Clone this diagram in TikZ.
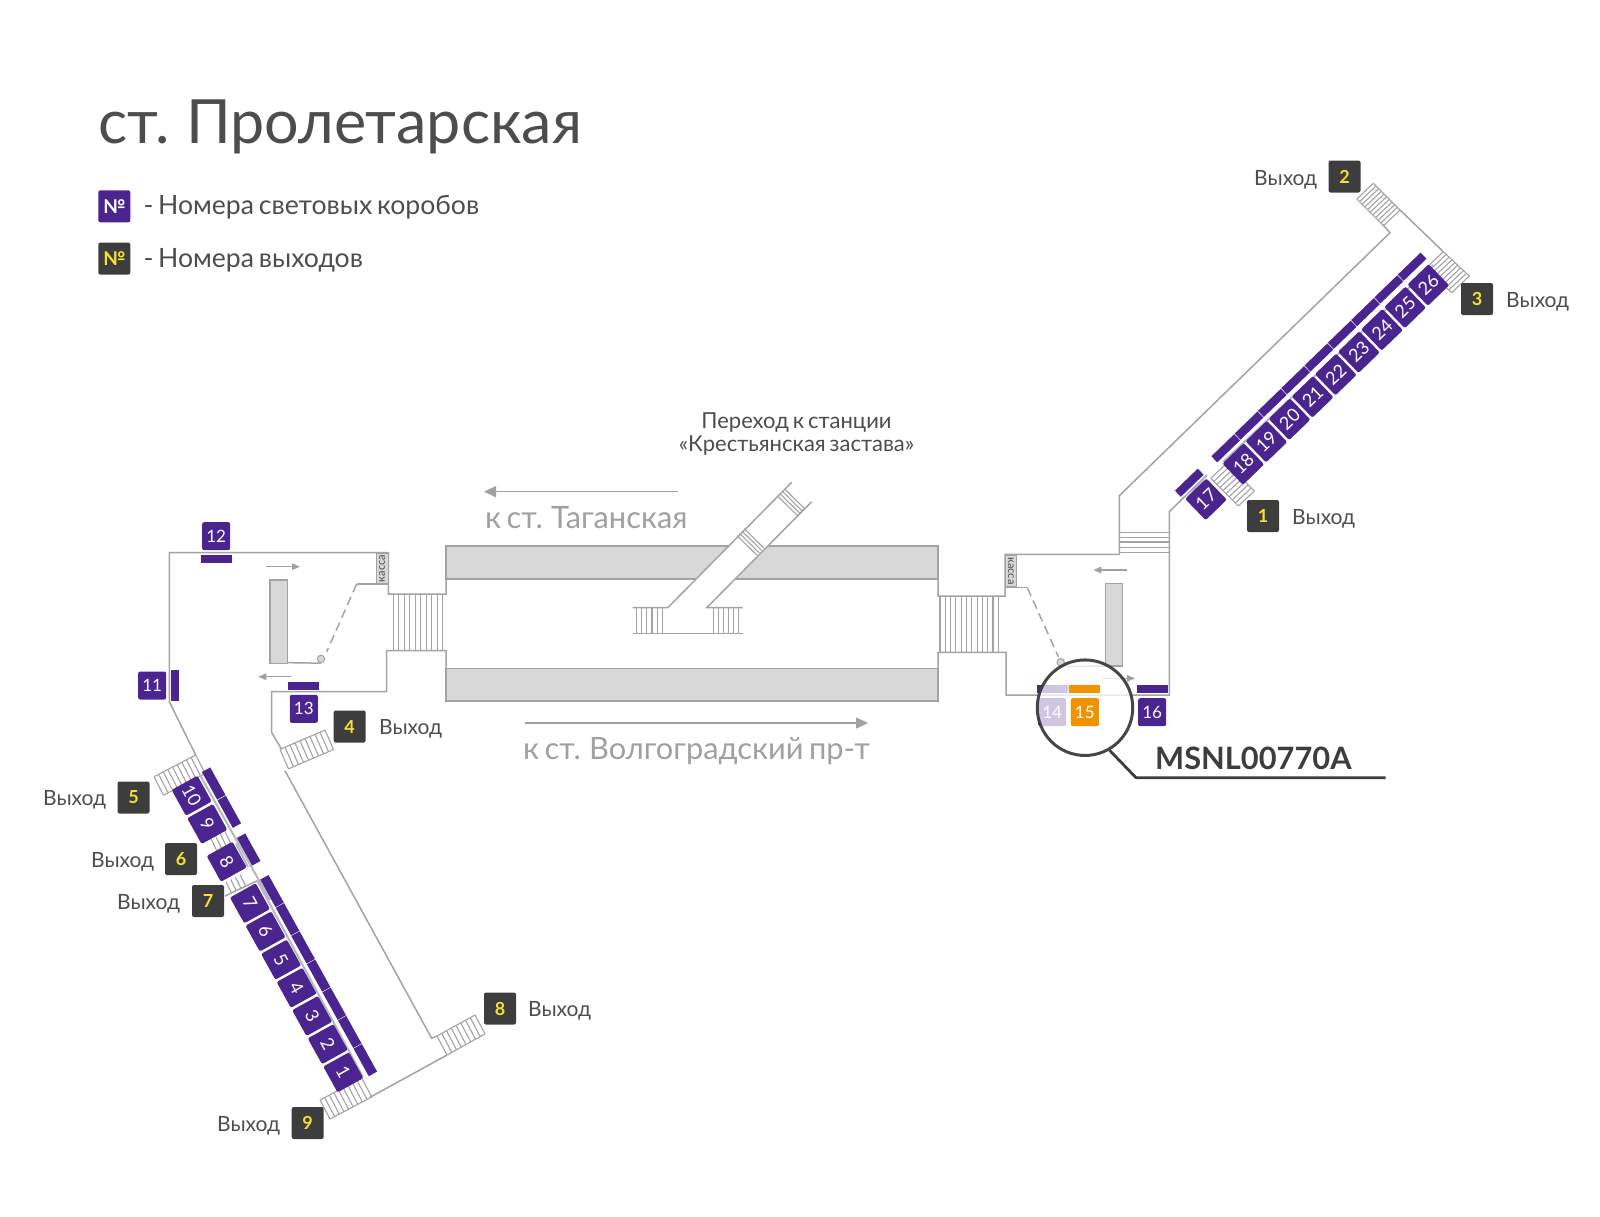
\documentclass[tikz,border=0pt]{standalone}
\usepackage{fontspec}
\setmainfont[WordSpace=0.7]{Lato}
\usetikzlibrary{arrows.meta}
\definecolor{lbpurple}{HTML}{4A2590}
\definecolor{exitdark}{HTML}{3D3D3D}
\definecolor{exityellow}{HTML}{F5E12F}
\definecolor{wallgray}{HTML}{A3A3A3}
\definecolor{palewall}{HTML}{B9B6C4}
\definecolor{platgray}{HTML}{D8D8D8}
\definecolor{txtdark}{HTML}{4D4D4D}
\definecolor{txtgray}{HTML}{A0A0A0}
\definecolor{lborange}{HTML}{F39200}
\tikzset{
  wall/.style={draw=wallgray,line width=1.5pt,line join=miter},
  stairline/.style={draw=wallgray,line width=1.1pt},
  palel/.style={draw=palewall,line width=2pt},
  dashwall/.style={draw=wallgray,line width=1.5pt,dash pattern=on 9pt off 5pt},
  smallarrow/.style={draw=txtgray,line width=1.2pt,-{Triangle[length=8pt,width=6.5pt]}},
  bigarrow/.style={draw=txtgray,line width=1.4pt,-{Triangle[length=12pt,width=11pt]}},
  lbox/.style={fill=lbpurple,rounded corners=2pt,minimum size=28pt,inner sep=0pt,text=white,font=\fontsize{17}{17}\selectfont},
  dbox/.style={lbox,minimum size=29.5pt,font=\fontsize{18}{18}\selectfont},
  lbar/.style={fill=lbpurple,minimum width=31pt,minimum height=8pt,inner sep=0pt},
  nebar/.style={lbar,minimum width=31.7pt,minimum height=8.5pt},
  swbar/.style={lbar,minimum width=31.5pt,minimum height=9.5pt},
  exitbox/.style={fill=exitdark,rounded corners=2pt,minimum size=32pt,inner sep=0pt,text=exityellow,font=\fontsize{18}{18}\selectfont\bfseries},
  exitword/.style={anchor=base west,inner sep=0pt,text=txtdark,font=\fontsize{21}{21}\selectfont},
  plat/.style={fill=platgray,draw=wallgray,line width=1.3pt},
  kassa/.style={fill=platgray,draw=wallgray,line width=.8pt,minimum width=11.7pt,minimum height=31pt,inner sep=0pt},
  kassatxt/.style={text=txtdark,font=\fontsize{11}{11}\selectfont,inner sep=0pt},
  graytxt/.style={anchor=base west,inner sep=0pt,text=txtgray,font=\fontsize{30.8}{32}\selectfont},
  legendtxt/.style={anchor=base west,inner sep=0pt,text=txtdark,font=\fontsize{26.6}{27}\selectfont},
}
\newcommand{\stairrun}[7]{%
  \draw[stairline] (#1,#2)--(#3,#4);
  \draw[stairline] ({#1+(#5)},{#2+(#6)})--({#3+(#5)},{#4+(#6)});
  \foreach \k in {0,...,#7}{
    \pgfmathsetmacro\tx{#1+(#3-#1)*\k/#7}
    \pgfmathsetmacro\ty{#2+(#4-#2)*\k/#7}
    \draw[stairline] (\tx,\ty)--({\tx+(#5)},{\ty+(#6)});
  }}
\begin{document}
\begin{tikzpicture}[x=1pt,y=-1pt]
\useasboundingbox (0,0) rectangle (1600,1216);
% title + legend
\node[anchor=base west,inner sep=0pt,text=txtdark,font=\fontsize{61}{62}\selectfont] (title) at (98,143.5) {ст. Пролетарская};
\node[lbox,minimum size=32pt,font=\fontsize{19}{19}\selectfont\bfseries] (legA) at (114.3,206.3) {№};
\node[exitbox,font=\fontsize{19}{19}\selectfont\bfseries] (legB) at (114.3,258.6) {№};
\node[legendtxt] (legAt) at (143.3,214.5) {- Номера световых коробов};
\node[legendtxt] (legBt) at (143.3,267) {- Номера выходов};
% platforms
\draw[plat] (446,546) rectangle (938,579);
\draw[plat] (446,668.3) rectangle (938,701);
% central passage
\fill[white] (667.7,607.7)--(791.7,482.3)--(811.7,501.7)--(706.7,607.7)--(742.7,633.3)--(632.7,633.3)--cycle;
\draw[wall] (632.7,607.7)--(667.7,607.7)--(791.7,482.3);
\draw[wall] (742.7,607.7)--(706.7,607.7)--(811.7,501.7);
\draw[wall] (632.7,633.3)--(742.7,633.3);
\foreach \q in {636.7,641.8,646.9,652,657.1,662.3,713.3,718.3,723.3,728.3,733.3,738.3}{
  \draw[stairline] (\q,607.7)--(\q,633.3);}
\foreach \q in {0,3.3,6.6,9.9}{
  \draw[stairline] ({737.3+.703*\q},{535.7-.711*\q})--++(19.7,19.5);
  \draw[stairline] ({777.7+.703*\q},{496-.711*\q})--++(19.7,19.5);}
% left vestibule walls
\draw[wall] (195.7,755)--(169.3,701.7)--(169.3,552.7)--(388.3,552.7)--(388.3,594)--(446,594)--(446,546);
\draw[wall] (446,701)--(446,650.7)--(386.7,650.7)--(386.7,691.7)--(271.7,691.7)--(271.7,732.7)--(281.7,749.3);
\draw[wall] (285,770.7)--(431.7,1038.3)--(437,1036);
\foreach \q in {0,...,9}{
  \draw[stairline] ({393.3+5.5*\q},594)--({393.3+5.5*\q},650.7);}
\node[kassa] (kasL) at (382.2,568.5) {};
\node[kassatxt,rotate=90] (kasLt) at (kasL) {касса};
\draw[wall] (388.3,584)--(356.7,584);
\draw[dashwall] (356.7,584)--(326.7,651.7);
\node[draw=wallgray,fill=platgray,line width=1pt,circle,minimum size=7.5pt,inner sep=0pt] (dotL) at (321,658.9) {};
\draw[plat] (270,580) rectangle (287.3,663.3);
\draw[wall] (287.3,662.65)--(dotL.south);
\draw[smallarrow] (265.7,566.7)--(300,566.7);
\draw[smallarrow] (290.7,676.7)--(258.3,676.7);
% right vestibule walls
\draw[wall] (938,546)--(938,596)--(1005,596)--(1005,554.3)--(1119.3,554.3)--(1119.3,495.7)--(1390,232.7)--(1382.7,224.5);
\draw[wall] (938,701)--(938,652.3)--(1006,652.3)--(1006,695)--(1169.3,695)--(1169.3,511.7)--(1206.7,475);
\draw[wall] (1400,210)--(1443.3,251.7);
\foreach \q in {0,...,11}{
  \draw[stairline] ({940+5.3*\q},596)--({940+5.3*\q},652.3);}
\foreach \q in {532.7,537.3,542,547.3,552.3}{
  \draw[stairline] (1119.3,\q)--(1169.3,\q);}
\node[kassa] (kasR) at (1010.8,571) {};
\node[kassatxt,rotate=-90] (kasRt) at (kasR) {касса};
\draw[wall] (1005,587.7)--(1027.3,587.7);
\draw[dashwall] (1027.3,587.7)--(1058.3,656.7);
\node[draw=wallgray,fill=platgray,line width=1pt,circle,minimum size=7.5pt,inner sep=0pt] (dotR) at (1060.7,662.3) {};
\draw[plat] (1105.7,583.3) rectangle (1122.7,666);
\draw[wall] (dotR.south)--(1105.7,666);
\draw[smallarrow] (1126.7,570)--(1093.3,570);
\draw[smallarrow] (1101.7,678.3)--(1135,678.3);
% stairs
\stairrun{1373.3}{183.3}{1400}{210}{-16.5}{15.7}{10}
\stairrun{1443.3}{251.7}{1469.3}{276}{-17.6}{16.7}{9}
\stairrun{1210.7}{478.3}{1238.3}{506}{16}{-15}{9}
\stairrun{280}{749.3}{325}{730}{8.5}{19.5}{9}
\stairrun{154}{776.7}{195.7}{755}{9.5}{18.5}{9}
\stairrun{437}{1036}{475}{1015}{10}{19}{8}
\stairrun{320}{1100}{361.7}{1078}{10}{19}{9}
\foreach \q in {0,...,3}{
  \draw[stairline] ({210.7+4.7*\q},{838-2.3*\q})--++(6,12.5);
  \draw[stairline] ({226+4.7*\q},{881.7-2.3*\q})--++(5.7,11.5);}
\draw[wall] (225,896)--(257.3,880.7);
\draw[wall] (370,1097.3)--(447,1055);
% pale wall segments along the light boxes
\draw[palel] (1223.3,461.7)--(1433.3,265);
\draw[palel] (1189,496)--(1206.7,475);
\draw[palel] (200,775)--(270,900);
\draw[palel] (236,843.5)--(248,867);
\draw[palel] (257.3,880.7)--(363,1077);
% light box bars and boxes
\foreach \n [evaluate=\n as \px using {1243.3+23.12*(\n-18)},evaluate=\n as \py using {464-22.38*(\n-18)},evaluate=\n as \qx using {1225.7+23.3*(\n-18)},evaluate=\n as \qy using {448.3-22.7*(\n-18)}] in {18,...,26}{
  \node[nebar,rotate=44] (bar\n) at (\qx,\qy) {};
  \node[dbox,rotate=44] (box\n) at (\px,\py) {\n};
}
\node[nebar,rotate=44] (bar17) at (1189.3,482.7) {};
\node[dbox,rotate=44] (box17) at (1206,499.3) {17};
\foreach \n [evaluate=\n as \px using {343.3-15.55*(\n-1)},evaluate=\n as \py using {1072.3-28.17*(\n-1)}] in {1,...,7}{
  \node[swbar,rotate=-61] (bar\n) at ({\px+22},{\py-12.2}) {};
  \node[dbox,rotate=-61] (box\n) at (\px,\py) {\n};
}
\node[swbar,rotate=-61] (bar8) at (248.7,849.5) {};
\node[dbox,rotate=-61] (box8) at (226.7,861.7) {8};
\node[swbar,rotate=-61] (bar9) at (229.3,811.8) {};
\node[dbox,rotate=-61] (box9) at (207.3,824) {9};
\node[swbar,rotate=-61] (bar10) at (213.7,783.5) {};
\node[dbox,rotate=-61] (box10) at (191.7,795.7) {10};
\node[lbar,minimum width=8.6pt,minimum height=30.7pt] (bar11) at (175,685.3) {};
\node[lbox] (box11) at (152.2,685.5) {11};
\node[lbar] (bar12) at (216.2,558.5) {};
\node[lbox] (box12) at (216.2,536.2) {12};
\node[lbar] (bar13) at (303.8,685.8) {};
\node[lbox] (box13) at (303.8,708.8) {13};
\node[lbar] (bar14) at (1052,689.2) {};
\node[lbox] (box14) at (1052.2,712.2) {14};
\node[lbar] (bar16) at (1152.2,689.2) {};
\node[lbox] (box16) at (1152.2,712.2) {16};
% lens
\node[circle,minimum size=95.5pt,inner sep=0pt,fill=white,fill opacity=.74,draw=exitdark,draw opacity=.95,line width=3pt] (lens) at (1085,707.7) {};
\node[lbar,fill=lborange] (bar15) at (1084.7,689.2) {};
\node[lbox,fill=lborange] (box15) at (1084.8,712.2) {15};
\coordinate (elbow) at (1136,777.7);
\coordinate (leadEnd) at (1385.7,777.7);
\draw[draw=exitdark,line width=2.8pt,line join=round] (lens.-60)--(elbow)--(leadEnd);
\node[anchor=base west,inner sep=0pt,text=exitdark,font=\fontsize{30.8}{32}\selectfont\bfseries] (code) at (1155,769) {MSNL00770A};
% exits
\node[exitbox] (ex1) at (1263,516) {1};
\node[exitbox] (ex2) at (1344.5,176.5) {2};
\node[exitbox] (ex3) at (1477,299) {3};
\node[exitbox] (ex4) at (349.7,726.5) {4};
\node[exitbox] (ex5) at (133.5,797.5) {5};
\node[exitbox] (ex6) at (181,859) {6};
\node[exitbox] (ex7) at (208,901) {7};
\node[exitbox] (ex8) at (500,1008.5) {8};
\node[exitbox] (ex9) at (307.7,1123) {9};
\node[exitword] (w1) at (1292,524) {Выход};
\node[exitword] (w2) at (1254,185) {Выход};
\node[exitword] (w3) at (1506,307) {Выход};
\node[exitword] (w4) at (379,734.5) {Выход};
\node[exitword] (w5) at (43,805.5) {Выход};
\node[exitword] (w6) at (91,867) {Выход};
\node[exitword] (w7) at (117,909) {Выход};
\node[exitword] (w8) at (528,1016.5) {Выход};
\node[exitword] (w9) at (217,1131) {Выход};
% direction labels
\coordinate (aT1) at (678.3,491.7);
\coordinate (aT2) at (484,491.7);
\draw[bigarrow] (aT1)--(aT2);
\node[graytxt] (toT) at (485,528) {к ст. Таганская};
\coordinate (aV1) at (525,723);
\coordinate (aV2) at (868,723);
\draw[bigarrow] (aV1)--(aV2);
\node[graytxt] (toV) at (523,759) {к ст. Волгоградский пр-т};
\node[align=center,inner sep=0pt,text=txtdark,font=\fontsize{22}{23}\selectfont] (trans) at (796.5,433.5) {Переход к станции\\«Крестьянская застава»};
\end{tikzpicture}
\end{document}
